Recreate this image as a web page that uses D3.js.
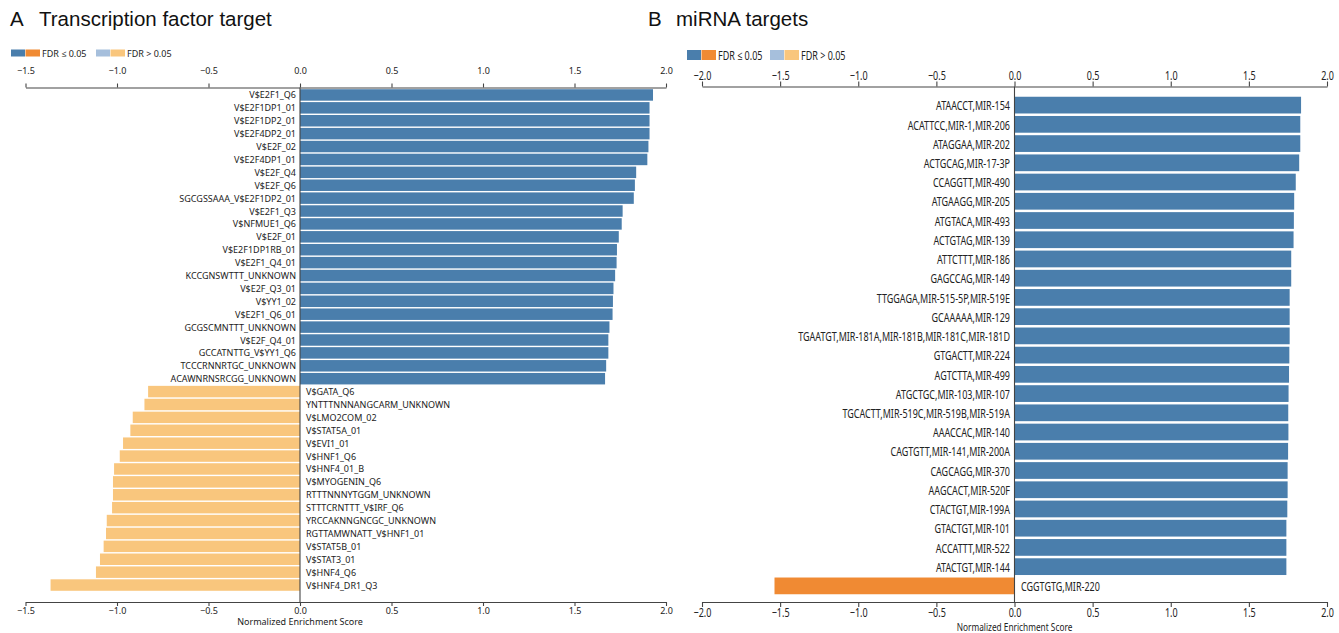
<!DOCTYPE html>
<html>
<head>
<meta charset="utf-8">
<script src="https://cdn.jsdelivr.net/npm/d3@7"></script>
<style>
  html, body { margin: 0; padding: 0; background: #fff; }
  svg { display: block; }
</style>
</head>
<body>
<svg id="chart" width="1339" height="633"></svg>
<script>
// ---- Panel A: transcription factor target gene sets ----
const tfNames = [
  "V$E2F1_Q6", "V$E2F1DP1_01", "V$E2F1DP2_01", "V$E2F4DP2_01", "V$E2F_02",
  "V$E2F4DP1_01", "V$E2F_Q4", "V$E2F_Q6", "SGCGSSAAA_V$E2F1DP2_01", "V$E2F1_Q3",
  "V$NFMUE1_Q6", "V$E2F_01", "V$E2F1DP1RB_01", "V$E2F1_Q4_01", "KCCGNSWTTT_UNKNOWN",
  "V$E2F_Q3_01", "V$YY1_02", "V$E2F1_Q6_01", "GCGSCMNTTT_UNKNOWN", "V$E2F_Q4_01",
  "GCCATNTTG_V$YY1_Q6", "TCCCRNNRTGC_UNKNOWN", "ACAWNRNSRCGG_UNKNOWN",
  "V$GATA_Q6", "YNTTTNNNANGCARM_UNKNOWN", "V$LMO2COM_02", "V$STAT5A_01", "V$EVI1_01",
  "V$HNF1_Q6", "V$HNF4_01_B", "V$MYOGENIN_Q6", "RTTTNNNYTGGM_UNKNOWN", "STTTCRNTTT_V$IRF_Q6",
  "YRCCAKNNGNCGC_UNKNOWN", "RGTTAMWNATT_V$HNF1_01", "V$STAT5B_01", "V$STAT3_01",
  "V$HNF4_Q6", "V$HNF4_DR1_Q3"
];
const tfNES = [
  1.929, 1.910, 1.910, 1.910, 1.904,
  1.898, 1.837, 1.830, 1.824, 1.763,
  1.758, 1.742, 1.732, 1.730, 1.722,
  1.713, 1.710, 1.708, 1.691, 1.685,
  1.685, 1.673, 1.667,
  -0.830, -0.850, -0.914, -0.927, -0.967,
  -0.985, -1.016, -1.022, -1.022, -1.027,
  -1.056, -1.060, -1.073, -1.093,
  -1.115, -1.363
];
// true where FDR <= 0.05
const tfSignificant = [
  true, true, true, true, true, true, true, true, true, true, true, true,
  true, true, true, true, true, true, true, true, true, true, true,
  false, false, false, false, false, false, false, false, false, false,
  false, false, false, false, false, false
];
const tfTicks = [-1.5, -1.0, -0.5, 0.0, 0.5, 1.0, 1.5, 2.0];

// ---- Panel B: miRNA target gene sets ----
const mirNames = [
  "ATAACCT,MIR-154", "ACATTCC,MIR-1,MIR-206", "ATAGGAA,MIR-202", "ACTGCAG,MIR-17-3P",
  "CCAGGTT,MIR-490", "ATGAAGG,MIR-205", "ATGTACA,MIR-493", "ACTGTAG,MIR-139",
  "ATTCTTT,MIR-186", "GAGCCAG,MIR-149", "TTGGAGA,MIR-515-5P,MIR-519E", "GCAAAAA,MIR-129",
  "TGAATGT,MIR-181A,MIR-181B,MIR-181C,MIR-181D", "GTGACTT,MIR-224", "AGTCTTA,MIR-499",
  "ATGCTGC,MIR-103,MIR-107", "TGCACTT,MIR-519C,MIR-519B,MIR-519A", "AAACCAC,MIR-140",
  "CAGTGTT,MIR-141,MIR-200A", "CAGCAGG,MIR-370", "AAGCACT,MIR-520F", "CTACTGT,MIR-199A",
  "GTACTGT,MIR-101", "ACCATTT,MIR-522", "ATACTGT,MIR-144", "CGGTGTG,MIR-220"
];
const mirNES = [
  1.834, 1.829, 1.829, 1.822,
  1.800, 1.790, 1.788, 1.786,
  1.771, 1.771, 1.761, 1.761,
  1.761, 1.759, 1.757,
  1.754, 1.752, 1.753,
  1.751, 1.748, 1.748, 1.746,
  1.740, 1.740, 1.740, -1.536
];
const mirSignificant = mirNES.map(() => true);
const mirTicks = [-2.0, -1.5, -1.0, -0.5, 0.0, 0.5, 1.0, 1.5, 2.0];

const legendItems = ["FDR \u2264 0.05", "FDR > 0.05"];

// colours: [significant, not significant] for up / down regulated sets
const colors = {
  up:   { sig: "#4a7eac", ns: "#a6bfdc" },
  down: { sig: "#f08a33", ns: "#f9c67d" }
};

const svg = d3.select("#chart");
const FONT = "'Noto Sans', 'Open Sans', sans-serif";
const TITLE_FONT = "'Liberation Sans', Arial, sans-serif";
const INK = "#222";
const AXIS = "#444";

function barColor(v, sig) {
  const side = v >= 0 ? colors.up : colors.down;
  return sig ? side.sig : side.ns;
}

// text with optional horizontal squeeze
function label(g, x, y, str, size, sx, anchor) {
  return g.append("text")
    .attr("transform", `translate(${x},${y}) scale(${sx},1)`)
    .attr("text-anchor", anchor)
    .attr("dominant-baseline", "central")
    .style("font-family", FONT)
    .style("font-size", size + "px")
    .style("fill", INK)
    .text(str);
}

function panel(cfg) {
  const g = svg.append("g");
  const x = d3.scaleLinear().domain(cfg.domain).range(cfg.xRange);
  const y = d3.scaleBand().domain(cfg.names).range(cfg.yRange).paddingInner(cfg.pad).paddingOuter(cfg.pad / 2);
  const x0 = x(0);

  // title
  g.append("text").attr("x", cfg.titleX[0]).attr("y", 26)
    .style("font-family", TITLE_FONT).style("font-size", "20.5px").style("fill", "#111")
    .text(cfg.letter);
  g.append("text").attr("x", cfg.titleX[1]).attr("y", 26)
    .style("font-family", TITLE_FONT).style("font-size", "20.5px").style("fill", "#111")
    .text(cfg.title);

  // legend
  const L = cfg.legend;
  const sw = [
    [colors.up.sig, colors.down.sig],
    [colors.up.ns, colors.down.ns]
  ];
  legendItems.forEach((t, i) => {
    const lx = L.x[i];
    g.append("rect").attr("x", lx).attr("y", L.y - L.h / 2).attr("width", 14).attr("height", L.h).attr("fill", sw[i][0]);
    g.append("rect").attr("x", lx + 14.5).attr("y", L.y - L.h / 2).attr("width", 14.5).attr("height", L.h).attr("fill", sw[i][1]);
    label(g, lx + 31, L.y, t, cfg.fontSize, cfg.sx, "start");
  });

  // bars
  const data = cfg.names.map((n, i) => ({ name: n, v: cfg.values[i], sig: cfg.sig[i] }));
  g.append("g").selectAll("rect").data(data).join("rect")
    .attr("x", d => Math.min(x(d.v), x0))
    .attr("y", d => y(d.name))
    .attr("width", d => Math.abs(x(d.v) - x0))
    .attr("height", y.bandwidth())
    .attr("fill", d => barColor(d.v, d.sig));

  // bar labels on the opposite side of the zero line
  const lg = g.append("g");
  data.forEach(d => {
    const cy = y(d.name) + y.bandwidth() / 2;
    if (d.v >= 0) label(lg, x0 - cfg.labelGap, cy, d.name, cfg.fontSize, cfg.sx, "end");
    else label(lg, x0 + cfg.labelGap + 2, cy, d.name, cfg.fontSize, cfg.sx, "start");
  });

  // zero line
  g.append("line").attr("x1", x0).attr("x2", x0).attr("y1", cfg.topY).attr("y2", cfg.bottomY)
    .attr("stroke", AXIS).attr("stroke-width", 1.1);

  const fmt = d3.format(".1f");
  const styleAxis = (ag, tickDy) => {
    ag.select(".domain").attr("stroke", AXIS).attr("stroke-width", 1.1);
    ag.selectAll(".tick line").attr("stroke", AXIS).attr("stroke-width", 1.1);
    ag.selectAll(".tick text")
      .attr("fill", INK)
      .style("font-family", FONT)
      .style("font-size", cfg.fontSize + "px")
      .attr("transform", `scale(${cfg.sx},1)`)
      .attr("dy", null)
      .attr("y", tickDy)
      .attr("dominant-baseline", "central");
  };

  // top axis
  const top = g.append("g").attr("transform", `translate(0,${cfg.topY})`)
    .call(d3.axisTop(x).tickValues(cfg.ticks).tickFormat(fmt).tickSizeInner(cfg.tickLen).tickSizeOuter(0));
  styleAxis(top, cfg.topLabelY - cfg.topY);

  // bottom axis
  const bot = g.append("g").attr("transform", `translate(0,${cfg.bottomY})`)
    .call(d3.axisBottom(x).tickValues(cfg.ticks).tickFormat(fmt).tickSizeInner(cfg.tickLen).tickSizeOuter(0));
  styleAxis(bot, cfg.botLabelY - cfg.bottomY);

  label(g, x0, cfg.axisTitleY, "Normalized Enrichment Score", cfg.axisTitleSize, cfg.sx, "middle");
}

panel({
  letter: "A", title: "Transcription factor target", titleX: [10, 39],
  names: tfNames, values: tfNES, sig: tfSignificant, ticks: tfTicks,
  domain: [-1.5, 2.0], xRange: [25.5, 666],
  yRange: [88.5, 591.5], pad: 0.11,
  topY: 87.5, bottomY: 602, tickLen: 4,
  topLabelY: 70, botLabelY: 610.5, axisTitleY: 621, axisTitleSize: 9,
  fontSize: 9, sx: 1, labelGap: 4,
  legend: { x: [11, 96], y: 53, h: 7 }
});

panel({
  letter: "B", title: "miRNA targets", titleX: [648, 676],
  names: mirNames, values: mirNES, sig: mirSignificant, ticks: mirTicks,
  domain: [-2.0, 2.0], xRange: [702, 1327],
  yRange: [95.5, 595.5], pad: 0.13,
  topY: 86.5, bottomY: 602, tickLen: 5,
  topLabelY: 74.5, botLabelY: 611.5, axisTitleY: 626, axisTitleSize: 11.5,
  fontSize: 12.5, sx: 0.72, labelGap: 4.5,
  legend: { x: [687, 770], y: 55, h: 10 }
});
</script>
</body>
</html>
